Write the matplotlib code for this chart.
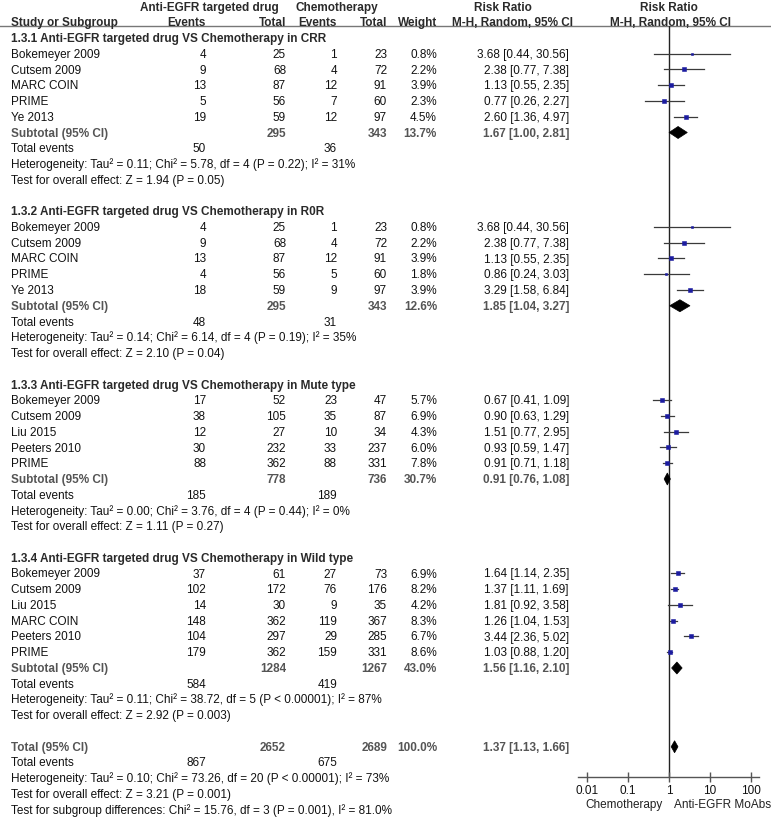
import matplotlib
matplotlib.use('Agg')
import matplotlib.pyplot as plt
from matplotlib.patches import Polygon

plt.rcParams['font.family'] = ['Liberation Sans', 'DejaVu Sans']

# ---------------- data ----------------
group_titles = [
    "1.3.1 Anti-EGFR targeted drug VS Chemotherapy in CRR",
    "1.3.2 Anti-EGFR targeted drug VS Chemotherapy in R0R",
    "1.3.3 Anti-EGFR targeted drug VS Chemotherapy in Mute type",
    "1.3.4 Anti-EGFR targeted drug VS Chemotherapy in Wild type",
]
study_names = [
    ["Bokemeyer 2009", "Cutsem 2009", "MARC COIN", "PRIME", "Ye 2013"],
    ["Bokemeyer 2009", "Cutsem 2009", "MARC COIN", "PRIME", "Ye 2013"],
    ["Bokemeyer 2009", "Cutsem 2009", "Liu 2015", "Peeters 2010", "PRIME"],
    ["Bokemeyer 2009", "Cutsem 2009", "Liu 2015", "MARC COIN", "Peeters 2010", "PRIME"],
]
exp_events = [[4, 9, 13, 5, 19], [4, 9, 13, 4, 18], [17, 38, 12, 30, 88],
              [37, 102, 14, 148, 104, 179]]
exp_total = [[25, 68, 87, 56, 59], [25, 68, 87, 56, 59], [52, 105, 27, 232, 362],
             [61, 172, 30, 362, 297, 362]]
ctl_events = [[1, 4, 12, 7, 12], [1, 4, 12, 5, 9], [23, 35, 10, 33, 88],
              [27, 76, 9, 119, 29, 159]]
ctl_total = [[23, 72, 91, 60, 97], [23, 72, 91, 60, 97], [47, 87, 34, 237, 331],
             [73, 176, 35, 367, 285, 331]]
weights = [[0.8, 2.2, 3.9, 2.3, 4.5], [0.8, 2.2, 3.9, 1.8, 3.9], [5.7, 6.9, 4.3, 6.0, 7.8],
           [6.9, 8.2, 4.2, 8.3, 6.7, 8.6]]
rr = [[3.68, 2.38, 1.13, 0.77, 2.60], [3.68, 2.38, 1.13, 0.86, 3.29],
      [0.67, 0.90, 1.51, 0.93, 0.91], [1.64, 1.37, 1.81, 1.26, 3.44, 1.03]]
rr_lo = [[0.44, 0.77, 0.55, 0.26, 1.36], [0.44, 0.77, 0.55, 0.24, 1.58],
         [0.41, 0.63, 0.77, 0.59, 0.71], [1.14, 1.11, 0.92, 1.04, 2.36, 0.88]]
rr_hi = [[30.56, 7.38, 2.35, 2.27, 4.97], [30.56, 7.38, 2.35, 3.03, 6.84],
         [1.09, 1.29, 2.95, 1.47, 1.18], [2.35, 1.69, 3.58, 1.53, 5.02, 1.20]]

sub_exp_total = [295, 295, 778, 1284]
sub_ctl_total = [343, 343, 736, 1267]
sub_weight = [13.7, 12.6, 30.7, 43.0]
sub_rr = [1.67, 1.85, 0.91, 1.56]
sub_lo = [1.00, 1.04, 0.76, 1.16]
sub_hi = [2.81, 3.27, 1.08, 2.10]
sub_exp_events = [50, 48, 185, 584]
sub_ctl_events = [36, 31, 189, 419]
sub_heterogeneity = [
    "Heterogeneity: Tau\u00b2 = 0.11; Chi\u00b2 = 5.78, df = 4 (P = 0.22); I\u00b2 = 31%",
    "Heterogeneity: Tau\u00b2 = 0.14; Chi\u00b2 = 6.14, df = 4 (P = 0.19); I\u00b2 = 35%",
    "Heterogeneity: Tau\u00b2 = 0.00; Chi\u00b2 = 3.76, df = 4 (P = 0.44); I\u00b2 = 0%",
    "Heterogeneity: Tau\u00b2 = 0.11; Chi\u00b2 = 38.72, df = 5 (P < 0.00001); I\u00b2 = 87%",
]
sub_effect = [
    "Test for overall effect: Z = 1.94 (P = 0.05)",
    "Test for overall effect: Z = 2.10 (P = 0.04)",
    "Test for overall effect: Z = 1.11 (P = 0.27)",
    "Test for overall effect: Z = 2.92 (P = 0.003)",
]

total_exp_total = 2652
total_ctl_total = 2689
total_weight = 100.0
total_rr = 1.37
total_lo = 1.13
total_hi = 1.66
total_exp_events = 867
total_ctl_events = 675
total_heterogeneity = "Heterogeneity: Tau\u00b2 = 0.10; Chi\u00b2 = 73.26, df = 20 (P < 0.00001); I\u00b2 = 73%"
total_effect = "Test for overall effect: Z = 3.21 (P = 0.001)"
subgroup_test = "Test for subgroup differences: Chi\u00b2 = 15.76, df = 3 (P = 0.001), I\u00b2 = 81.0%"

axis_ticks = [0.01, 0.1, 1, 10, 100]
axis_tick_labels = ["0.01", "0.1", "1", "10", "100"]
favours_left = "Chemotherapy"
favours_right = "Anti-EGFR MoAbs"

# ---------------- layout ----------------
W, H = 771, 817
FS = 8.45
ROW0, STEP = 38.0, 15.75
BL = 4.0  # baseline offset from row centre (px)
TXT = '#111111'
HDR = '#2a2a2a'
SUB = '#555555'

X_NAME, X_EE, X_ET, X_CE, X_CT, X_W, X_RR = 11, 206, 286, 337, 387, 437, 569
PX_ONE, PX_DEC = 669.0, 40.8
FX0, FX1, FY0, FY1 = 578, 759, 26, 777

fig = plt.figure(figsize=(W / 100, H / 100), dpi=100)
fig.patch.set_facecolor('white')
ax = fig.add_axes([0, 0, 1, 1])
ax.set_xlim(0, W)
ax.set_ylim(H, 0)
ax.axis('off')

fax = fig.add_axes([FX0 / W, 1 - FY1 / H, (FX1 - FX0) / W, (FY1 - FY0) / H])
fax.set_xscale('log')
fax.set_xlim(10 ** ((FX0 - PX_ONE) / PX_DEC), 10 ** ((FX1 - PX_ONE) / PX_DEC))
fax.set_ylim(FY1, FY0)
fax.patch.set_alpha(0)
for s in ['top', 'left', 'right']:
    fax.spines[s].set_visible(False)
fax.spines['bottom'].set_color('#555555')
fax.spines['bottom'].set_linewidth(1.0)
fax.set_yticks([])
fax.set_xticks(axis_ticks)
fax.set_xticklabels(axis_tick_labels)
fax.minorticks_off()
fax.tick_params(axis='x', direction='inout', length=7, width=1, color='#555555',
                labelsize=FS, pad=2.0, labelcolor=TXT)
fax.axvline(1, color='#222222', lw=1.0, zorder=1)


def t(x, row_y, s, ha='left', bold=False, color=TXT):
    ax.text(x, row_y + BL, s, ha=ha, va='baseline', fontsize=FS,
            fontweight='bold' if bold else 'normal', color=color)


def row_y(i):
    return ROW0 + STEP * i


# header
hy1, hy2 = 7, 22
for xh, s in [(209, "Anti-EGFR targeted drug"), (337, "Chemotherapy"),
              (503, "Risk Ratio"), (669, "Risk Ratio")]:
    t(xh, hy1, s, ha='center', bold=True, color=HDR)
t(X_NAME, hy2, "Study or Subgroup", bold=True, color=HDR)
t(X_EE, hy2, "Events", ha='right', bold=True, color=HDR)
t(X_ET, hy2, "Total", ha='right', bold=True, color=HDR)
t(X_CE, hy2, "Events", ha='right', bold=True, color=HDR)
t(X_CT, hy2, "Total", ha='right', bold=True, color=HDR)
t(X_W, hy2, "Weight", ha='right', bold=True, color=HDR)
t(513, hy2, "M-H, Random, 95% CI", ha='center', bold=True, color=HDR)
t(671, hy2, "M-H, Random, 95% CI", ha='center', bold=True, color=HDR)
ax.plot([0, W], [FY0, FY0], color='#777777', lw=1.0)

SQ = '#1c1ca0'
DH = 6.0


def diamond(rv, lo, hi, y):
    poly = Polygon([[lo, y], [rv, y - DH], [hi, y], [rv, y + DH]], closed=True,
                   facecolor='black', edgecolor='black', lw=0.5, zorder=3)
    fax.add_patch(poly)


idx = 0
for g in range(len(group_titles)):
    t(X_NAME, row_y(idx), group_titles[g], bold=True, color=HDR)
    idx += 1
    for k in range(len(study_names[g])):
        y = row_y(idx)
        t(X_NAME, y, study_names[g][k])
        t(X_EE, y, str(exp_events[g][k]), ha='right')
        t(X_ET, y, str(exp_total[g][k]), ha='right')
        t(X_CE, y, str(ctl_events[g][k]), ha='right')
        t(X_CT, y, str(ctl_total[g][k]), ha='right')
        t(X_W, y, f"{weights[g][k]:.1f}%", ha='right')
        t(X_RR, y, f"{rr[g][k]:.2f} [{rr_lo[g][k]:.2f}, {rr_hi[g][k]:.2f}]", ha='right')
        fax.plot([rr_lo[g][k], rr_hi[g][k]], [y, y], color='#3a3a3a', lw=0.9, zorder=2)
        fax.plot([rr[g][k]], [y], marker='s', ms=1.8 + 0.17 * weights[g][k],
                 color=SQ, mec=SQ, mew=0.4, zorder=3)
        idx += 1
    y = row_y(idx)
    t(X_NAME, y, "Subtotal (95% CI)", bold=True, color=SUB)
    t(X_ET, y, str(sub_exp_total[g]), ha='right', bold=True, color=SUB)
    t(X_CT, y, str(sub_ctl_total[g]), ha='right', bold=True, color=SUB)
    t(X_W, y, f"{sub_weight[g]:.1f}%", ha='right', bold=True, color=SUB)
    t(X_RR, y, f"{sub_rr[g]:.2f} [{sub_lo[g]:.2f}, {sub_hi[g]:.2f}]", ha='right', bold=True, color=SUB)
    diamond(sub_rr[g], sub_lo[g], sub_hi[g], y)
    idx += 1
    y = row_y(idx)
    t(X_NAME, y, "Total events")
    t(X_EE, y, str(sub_exp_events[g]), ha='right')
    t(X_CE, y, str(sub_ctl_events[g]), ha='right')
    idx += 1
    t(X_NAME, row_y(idx), sub_heterogeneity[g])
    idx += 1
    t(X_NAME, row_y(idx), sub_effect[g])
    idx += 2

y = row_y(idx)
t(X_NAME, y, "Total (95% CI)", bold=True, color=SUB)
t(X_ET, y, str(total_exp_total), ha='right', bold=True, color=SUB)
t(X_CT, y, str(total_ctl_total), ha='right', bold=True, color=SUB)
t(X_W, y, f"{total_weight:.1f}%", ha='right', bold=True, color=SUB)
t(X_RR, y, f"{total_rr:.2f} [{total_lo:.2f}, {total_hi:.2f}]", ha='right', bold=True, color=SUB)
diamond(total_rr, total_lo, total_hi, y)
idx += 1
y = row_y(idx)
t(X_NAME, y, "Total events")
t(X_EE, y, str(total_exp_events), ha='right')
t(X_CE, y, str(total_ctl_events), ha='right')
idx += 1
t(X_NAME, row_y(idx), total_heterogeneity)
idx += 1
t(X_NAME, row_y(idx), total_effect)
idx += 1
t(X_NAME, row_y(idx), subgroup_test)

t(624, 804, favours_left, ha='center', color='#222222')
t(723, 804, favours_right, ha='center', color='#222222')

fig.savefig('out.png', dpi=100, facecolor='white')
